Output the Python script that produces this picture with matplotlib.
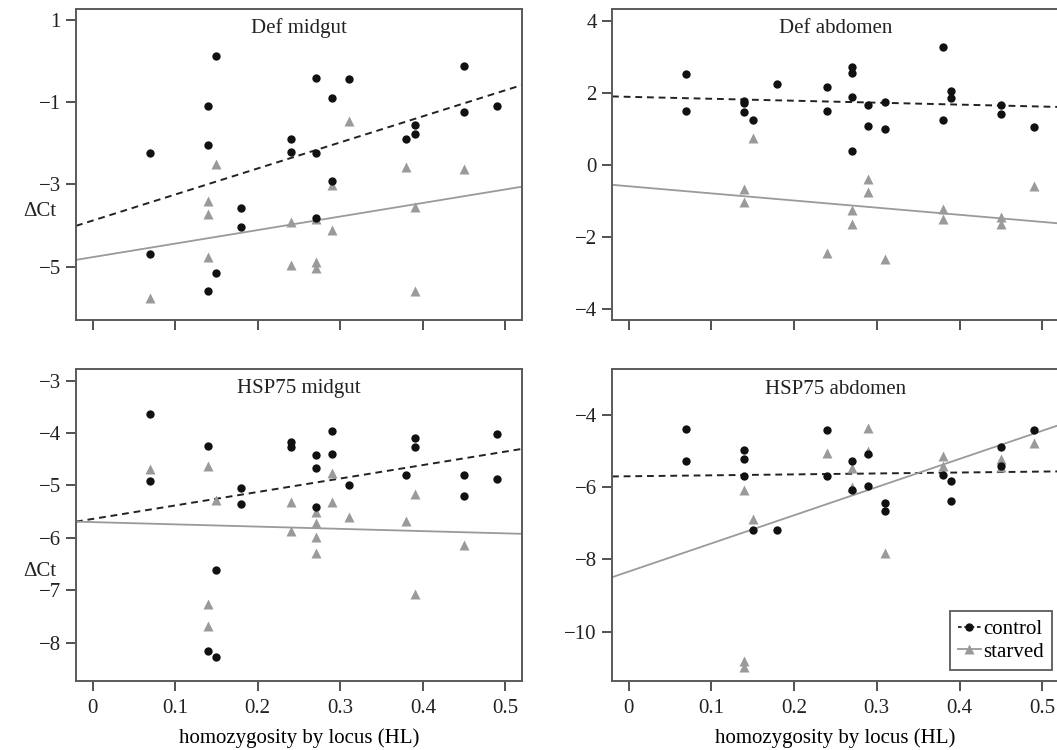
import matplotlib
matplotlib.use("Agg")
import matplotlib.pyplot as plt
from matplotlib.lines import Line2D
import numpy as np

plt.rcParams['font.family'] = ['Liberation Serif', 'DejaVu Serif']

# ---------------- data ----------------
titles = ["Def midgut", "Def abdomen", "HSP75 midgut", "HSP75 abdomen"]
xticks = [0, 0.1, 0.2, 0.3, 0.4, 0.5]
xtick_labels = ["0", "0.1", "0.2", "0.3", "0.4", "0.5"]

# Def midgut
hl_ctrl_defmid = [0.07, 0.07, 0.14, 0.14, 0.14, 0.15, 0.15, 0.18, 0.18, 0.24, 0.24, 0.27,
                  0.27, 0.27, 0.29, 0.29, 0.31, 0.38, 0.39, 0.39, 0.45, 0.45, 0.49]
dct_ctrl_defmid = [-2.23, -4.69, -1.10, -2.04, -5.60, 0.14, -5.16, -3.58, -4.03, -1.89, -2.20, -0.40,
                   -2.23, -3.82, -0.90, -2.91, -0.44, -1.89, -1.56, -1.78, -0.11, -1.24, -1.09]
hl_starv_defmid = [0.07, 0.14, 0.14, 0.14, 0.15, 0.24, 0.24, 0.27, 0.27, 0.27, 0.29, 0.29,
                   0.31, 0.38, 0.39, 0.39, 0.45]
dct_starv_defmid = [-5.76, -3.40, -3.72, -4.77, -2.51, -3.92, -4.97, -3.85, -4.89, -5.04, -3.02, -4.11,
                    -1.45, -2.58, -3.56, -5.59, -2.62]

# Def abdomen
hl_ctrl_defabd = [0.07, 0.07, 0.14, 0.14, 0.14, 0.15, 0.18, 0.24, 0.24, 0.27, 0.27, 0.27, 0.27,
                  0.29, 0.29, 0.31, 0.31, 0.38, 0.38, 0.39, 0.39, 0.45, 0.45, 0.49]
dct_ctrl_defabd = [2.51, 1.50, 1.78, 1.72, 1.47, 1.25, 2.25, 2.16, 1.51, 2.73, 2.54, 1.89, 0.40,
                   1.66, 1.08, 1.74, 0.99, 3.26, 1.25, 2.05, 1.86, 1.65, 1.42, 1.05]
hl_starv_defabd = [0.14, 0.14, 0.15, 0.24, 0.27, 0.27, 0.29, 0.29, 0.31, 0.38, 0.38, 0.45, 0.45, 0.49]
dct_starv_defabd = [-0.67, -1.04, 0.74, -2.44, -1.26, -1.64, -0.39, -0.75, -2.60, -1.22, -1.49,
                    -1.43, -1.64, -0.58]

# HSP75 midgut
hl_ctrl_hspmid = [0.07, 0.07, 0.14, 0.14, 0.15, 0.15, 0.18, 0.18, 0.24, 0.24, 0.27, 0.27, 0.27,
                  0.29, 0.29, 0.31, 0.38, 0.39, 0.39, 0.45, 0.45, 0.49, 0.49]
dct_ctrl_hspmid = [-3.64, -4.91, -4.25, -8.15, -6.61, -8.27, -5.05, -5.35, -4.18, -4.26, -4.42, -4.66,
                   -5.41, -3.97, -4.41, -4.99, -4.81, -4.09, -4.26, -4.81, -5.21, -4.02, -4.88]
hl_starv_hspmid = [0.07, 0.14, 0.14, 0.14, 0.15, 0.24, 0.24, 0.27, 0.27, 0.27, 0.27, 0.29, 0.29,
                   0.31, 0.38, 0.39, 0.39, 0.45]
dct_starv_hspmid = [-4.69, -4.63, -7.27, -7.69, -5.28, -5.32, -5.87, -5.50, -5.72, -5.98, -6.29,
                    -4.77, -5.31, -5.60, -5.67, -5.17, -7.08, -6.14]

# HSP75 abdomen
hl_ctrl_hspabd = [0.07, 0.07, 0.14, 0.14, 0.14, 0.15, 0.18, 0.24, 0.24, 0.27, 0.27, 0.29, 0.29,
                  0.31, 0.31, 0.38, 0.39, 0.39, 0.45, 0.45, 0.49]
dct_ctrl_hspabd = [-4.39, -5.29, -4.97, -5.23, -5.69, -7.20, -7.19, -4.43, -5.68, -5.29, -6.08,
                   -5.08, -5.96, -6.45, -6.65, -5.66, -5.83, -6.39, -4.89, -5.41, -4.42]
hl_starv_hspabd = [0.14, 0.14, 0.14, 0.15, 0.24, 0.27, 0.27, 0.29, 0.29, 0.31, 0.38, 0.38, 0.45,
                   0.45, 0.49]
dct_starv_hspabd = [-6.08, -10.81, -10.99, -6.89, -5.06, -5.48, -6.00, -4.35, -5.00, -7.83, -5.14,
                    -5.41, -5.23, -5.43, -4.77]

# fitted regression lines (intercept, slope)
ctrl_intercepts = [-3.88, 1.89, -5.64, -5.70]
ctrl_slopes = [6.35, -0.54, 2.57, 0.26]
starv_intercepts = [-4.77, -0.59, -5.70, -8.34]
starv_slopes = [3.30, -1.98, -0.43, 7.80]

ylims = [(-6.30, 1.285), (-4.30, 4.34), (-8.725, -2.78), (-11.36, -2.73)]
yticks = [[1, -1, -3, -5], [4, 2, 0, -2, -4], [-3, -4, -5, -6, -7, -8], [-4, -6, -8, -10]]

ctrl_x = [hl_ctrl_defmid, hl_ctrl_defabd, hl_ctrl_hspmid, hl_ctrl_hspabd]
ctrl_y = [dct_ctrl_defmid, dct_ctrl_defabd, dct_ctrl_hspmid, dct_ctrl_hspabd]
starv_x = [hl_starv_defmid, hl_starv_defabd, hl_starv_hspmid, hl_starv_hspabd]
starv_y = [dct_starv_defmid, dct_starv_defabd, dct_starv_hspmid, dct_starv_hspabd]

# ---------------- figure ----------------
W, H = 1057, 750
fig = plt.figure(figsize=(W / 100, H / 100), dpi=100)

# axes boxes in pixels: (left, top, right, bottom)
boxes = [(76, 8.5, 522, 320), (612, 8.5, 1058.8, 320),
         (76, 369, 522, 680.7), (612, 369, 1058.8, 680.7)]

spine_col = '#5a5a5a'
ctrl_col = '#111111'
starv_col = '#9a9a9a'
fs = 15

axes = []
for i, (l, t, r, b) in enumerate(boxes):
    ax = fig.add_axes([l / W, 1 - b / H, (r - l) / W, (b - t) / H])
    axes.append(ax)
    ax.set_xlim(-0.02, 0.52)
    ax.set_ylim(*ylims[i])
    ax.axline((0, ctrl_intercepts[i]), slope=ctrl_slopes[i], color='#222222',
              lw=1.4, ls=(0, (3.5, 2.5)), zorder=2)
    ax.axline((0, starv_intercepts[i]), slope=starv_slopes[i], color=starv_col,
              lw=1.3, zorder=2)
    ax.plot(starv_x[i], starv_y[i], ls='none', marker='^', ms=6.5, color=starv_col,
            mec='none', zorder=3)
    ax.plot(ctrl_x[i], ctrl_y[i], ls='none', marker='o', ms=6, color=ctrl_col,
            mec='none', zorder=4)
    ax.set_xticks(xticks)
    ax.set_yticks(yticks[i])
    ax.set_yticklabels([str(v).replace('-', '\u2212') for v in yticks[i]])
    if i >= 2:
        ax.set_xticklabels(xtick_labels)
        ax.set_xlabel("homozygosity by locus (HL)", fontsize=fs, labelpad=7)
    else:
        ax.set_xticklabels([])
    ax.tick_params(axis='both', direction='out', length=7, width=1.2, colors='#333333',
                   labelsize=fs, labelcolor='#222222')
    ax.tick_params(axis='x', pad=6.5)
    ax.tick_params(axis='y', pad=4)
    for s in ax.spines.values():
        s.set_color(spine_col)
        s.set_linewidth(1.4)
    ax.text(0.5, 1 - 24.5 / (b - t), titles[i], transform=ax.transAxes,
            ha='center', va='baseline', fontsize=fs, color='#222222')

# y labels
fig.text(40 / W, 1 - 212 / H, "\u0394Ct", ha='center', va='center', fontsize=fs, color='#222222')
fig.text(40 / W, 1 - 572 / H, "\u0394Ct", ha='center', va='center', fontsize=fs, color='#222222')

# legend
handles = [Line2D([0], [0], color='#222222', lw=1.3, ls=(0, (2, 1.5)), marker='o', ms=6,
                  mfc=ctrl_col, mec='none'),
           Line2D([0], [0], color=starv_col, lw=1.3, marker='^', ms=6.5, mfc=starv_col, mec='none')]
leg = axes[3].legend(handles, ["control", "starved"], loc='lower right',
                     bbox_to_anchor=(0.985, 0.034), borderaxespad=0, fontsize=fs,
                     handlelength=1.1, handletextpad=0.1, borderpad=0.4, labelspacing=0.15,
                     fancybox=False, framealpha=1)
leg.get_frame().set_edgecolor(spine_col)
leg.get_frame().set_linewidth(1.3)

fig.savefig("out.png", dpi=100)
